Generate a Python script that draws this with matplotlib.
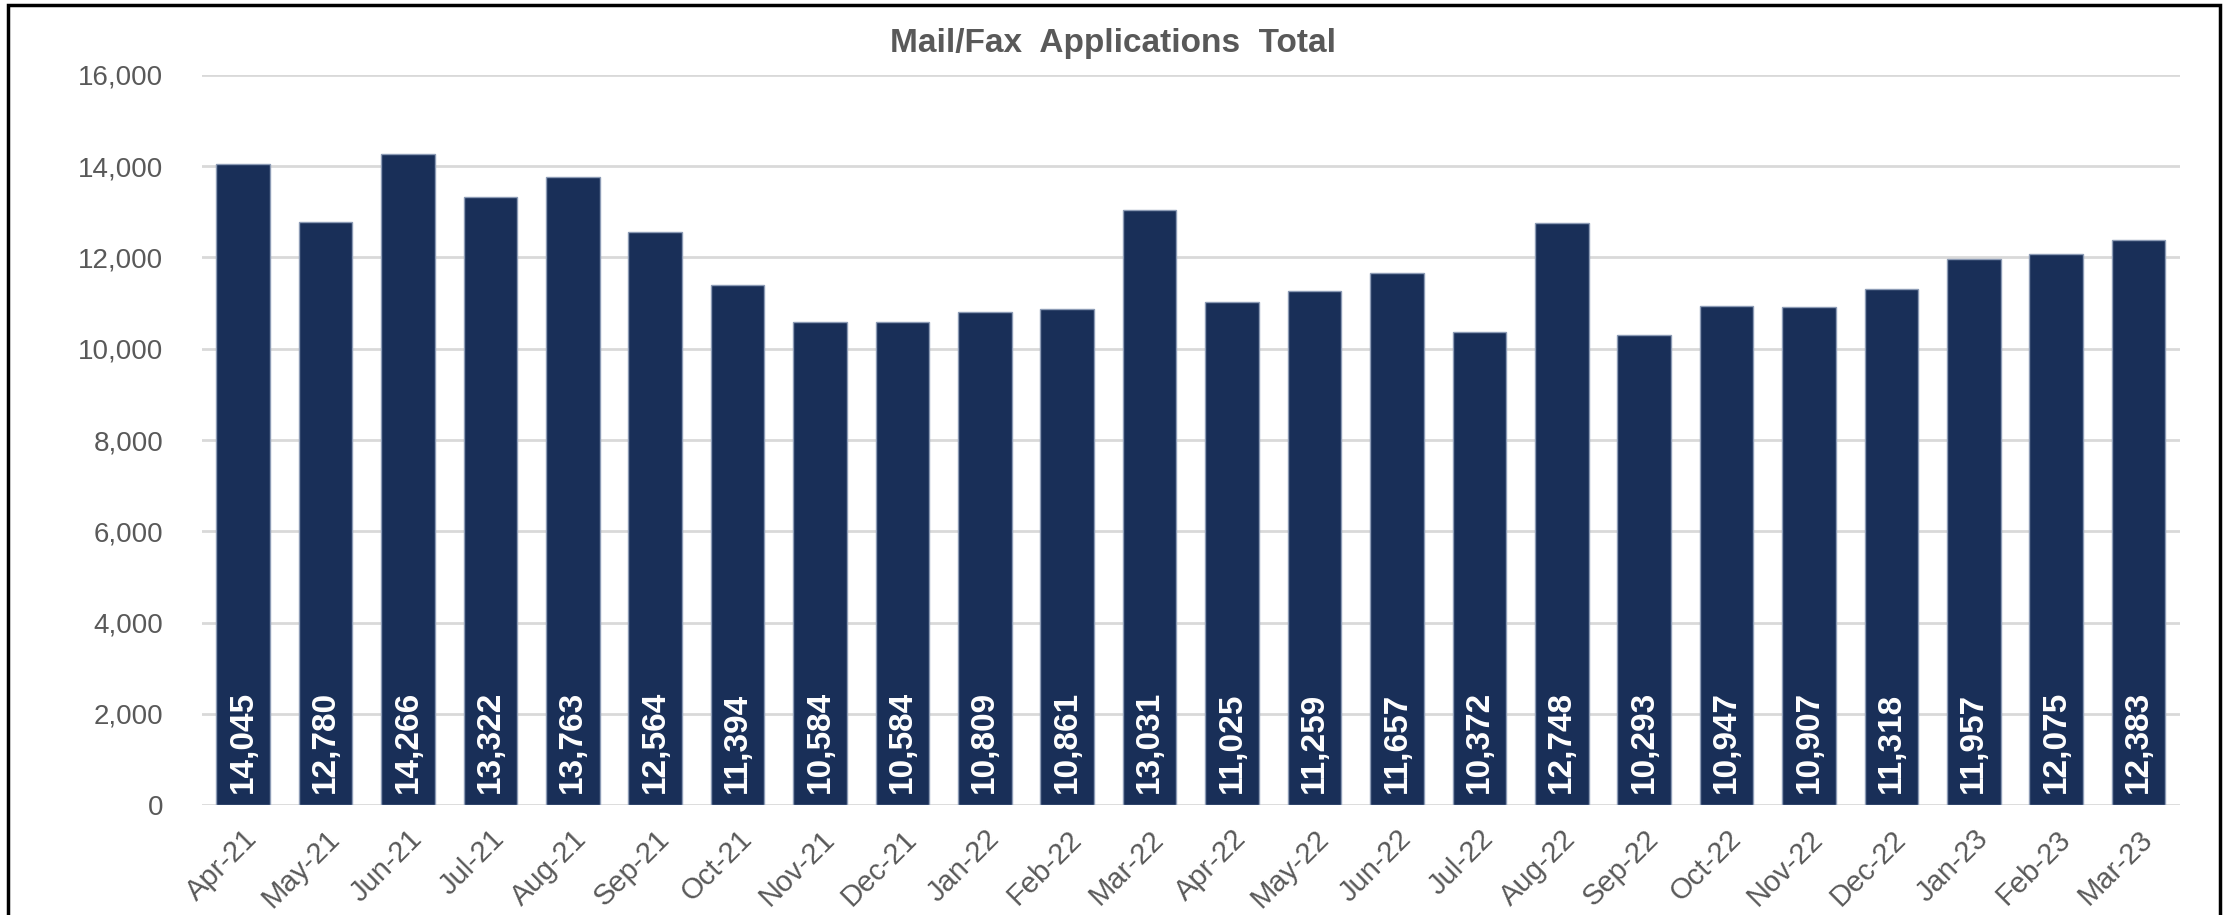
import matplotlib.pyplot as plt
from matplotlib.patches import Rectangle
from matplotlib.ticker import FuncFormatter

plt.rcParams['font.family'] = ['Liberation Sans', 'DejaVu Sans']

months = ["Apr-21", "May-21", "Jun-21", "Jul-21", "Aug-21", "Sep-21", "Oct-21", "Nov-21",
          "Dec-21", "Jan-22", "Feb-22", "Mar-22", "Apr-22", "May-22", "Jun-22", "Jul-22",
          "Aug-22", "Sep-22", "Oct-22", "Nov-22", "Dec-22", "Jan-23", "Feb-23", "Mar-23"]
totals = [14045, 12780, 14266, 13322, 13763, 12564, 11394, 10584,
          10584, 10809, 10861, 13031, 11025, 11259, 11657, 10372,
          12748, 10293, 10947, 10907, 11318, 11957, 12075, 12383]
yticks = [0, 2000, 4000, 6000, 8000, 10000, 12000, 14000, 16000]

fig = plt.figure(figsize=(22.31, 9.15), dpi=100)
ax = fig.add_axes([0.0905, 0.120, 0.8866, 0.7982])

x = range(len(months))
ax.bar(x, totals, width=0.65, color='#192F58', edgecolor='#8C9BB5', linewidth=1, zorder=3)

# labels inside base, white bold, vertical
for i, v in enumerate(totals):
    ax.annotate(f"{v:,}", (i, 0), xytext=(0, 9), textcoords='offset points',
                rotation=90, ha='center', va='bottom', color='white',
                fontsize=24, fontweight='bold', zorder=4)

ax.set_xlim(-0.5, len(months) - 0.5)
ax.set_ylim(0, 16000)
ax.set_yticks(yticks)
ax.yaxis.set_major_formatter(FuncFormatter(lambda v, p: f"{int(v):,}"))
ax.set_xticks(list(x))
ax.set_xticklabels(months, rotation=45, ha='right', rotation_mode='anchor')
ax.tick_params(axis='y', labelsize=20, labelcolor='#595959', length=0, pad=28)
ax.tick_params(axis='x', labelsize=21, labelcolor='#595959', length=0, pad=14)

ax.grid(axis='y', color='#D9D9D9', linewidth=2, zorder=0)
for s in ax.spines.values():
    s.set_visible(False)

fig.text(0.499, 0.953, "Mail/Fax  Applications  Total", ha='center', va='center',
         fontsize=24, fontweight='bold', color='#595959')

# outer border (bottom edge cut off in the original)
fig.patches.append(Rectangle((0.0035, -0.05), 0.9915, 1.0445, transform=fig.transFigure,
                             fill=False, edgecolor='black', linewidth=2.5))

fig.savefig("out.png", dpi=100)
